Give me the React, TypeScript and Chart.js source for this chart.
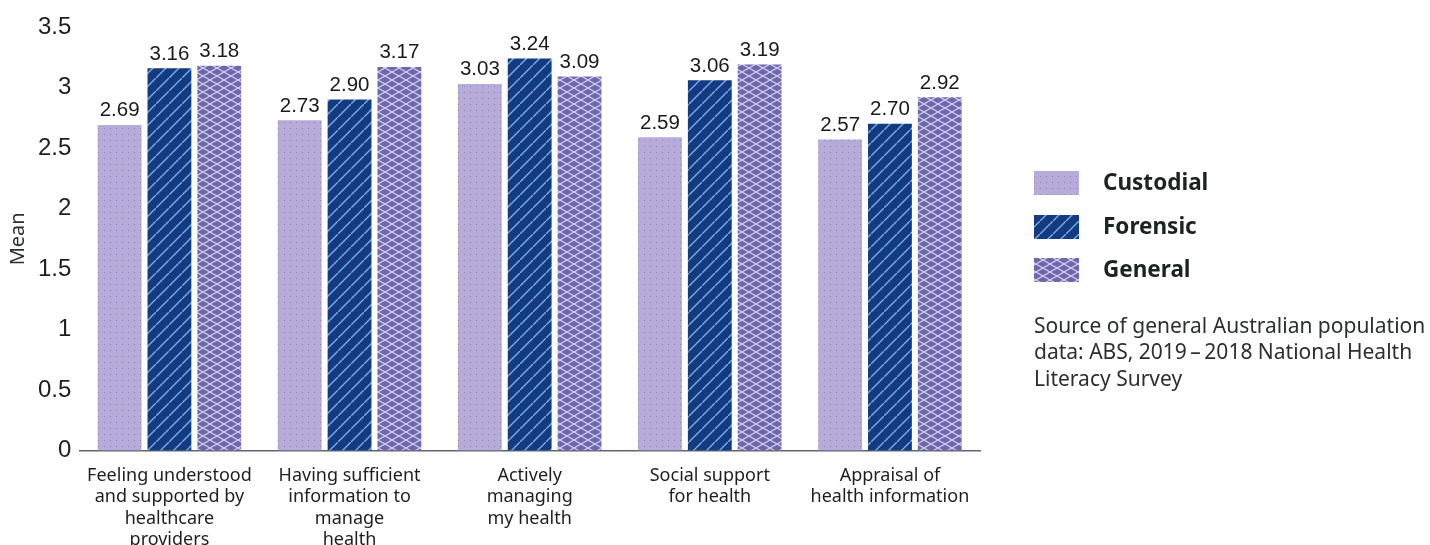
import React, { useEffect, useRef } from "react";
import { Chart, registerables } from "chart.js";

Chart.register(...registerables);

const categories: string[][] = [
  ["Feeling understood", "and supported by", "healthcare", "providers"],
  ["Having sufficient", "information to", "manage", "health"],
  ["Actively", "managing", "my health"],
  ["Social support", "for health"],
  ["Appraisal of", "health information"],
];
const seriesNames = ["Custodial", "Forensic", "General"];
const custodial = [2.69, 2.73, 3.03, 2.59, 2.57];
const forensic = [3.16, 2.9, 3.24, 3.06, 2.7];
const general = [3.18, 3.17, 3.09, 3.19, 2.92];
const yTicks = [0, 0.5, 1, 1.5, 2, 2.5, 3, 3.5];
const sourceLines = [
  "Source of general Australian population",
  "data: ABS, 2019\u2009\u2013\u20092018 National Health",
  "Literacy Survey",
];

function makeTile(w: number, h: number, draw: (c: CanvasRenderingContext2D) => void) {
  const cv = document.createElement("canvas");
  cv.width = w;
  cv.height = h;
  const c = cv.getContext("2d")!;
  draw(c);
  return c.createPattern(cv, "repeat")!;
}

function dotPattern() {
  return makeTile(6, 6, (c) => {
    c.fillStyle = "#b6abd9";
    c.fillRect(0, 0, 6, 6);
    c.fillStyle = "#8a7dbf";
    c.fillRect(2, 2, 1, 1);
  });
}
function diagPattern() {
  return makeTile(13, 13, (c) => {
    c.fillStyle = "#163a80";
    c.fillRect(0, 0, 13, 13);
    c.strokeStyle = "#6cb0ea";
    c.lineWidth = 1.4;
    c.beginPath();
    c.moveTo(-2, 15);
    c.lineTo(15, -2);
    c.stroke();
  });
}
function crossPattern() {
  return makeTile(14, 8, (c) => {
    c.fillStyle = "#6e67af";
    c.fillRect(0, 0, 14, 8);
    c.strokeStyle = "rgba(236,232,248,0.8)";
    c.lineWidth = 1.2;
    c.beginPath();
    c.moveTo(0, 0);
    c.lineTo(14, 8);
    c.moveTo(0, 8);
    c.lineTo(14, 0);
    c.stroke();
  });
}

const valueLabels = {
  id: "valueLabels",
  afterDatasetsDraw(chart: any) {
    const ctx = chart.ctx;
    ctx.save();
    ctx.font = '20.5px "Liberation Sans", Arial, sans-serif';
    ctx.fillStyle = "#1a1a1a";
    ctx.textAlign = "center";
    ctx.textBaseline = "bottom";
    chart.data.datasets.forEach((ds: any, i: number) => {
      const meta = chart.getDatasetMeta(i);
      meta.data.forEach((bar: any, j: number) => {
        ctx.fillText(ds.data[j].toFixed(2), bar.x, bar.y - 4);
      });
    });
    ctx.restore();
  },
};

const sideLegend = {
  id: "sideLegend",
  afterDraw(chart: any) {
    const ctx = chart.ctx;
    ctx.save();
    const x0 = 1034;
    const ys = [183, 227, 270];
    chart.data.datasets.forEach((ds: any, i: number) => {
      ctx.fillStyle = ds.backgroundColor;
      ctx.fillRect(x0, ys[i] - 12, 45, 24);
      ctx.fillStyle = "#1c2422";
      ctx.font = 'bold 22.5px "Noto Sans", "Open Sans", sans-serif';
      ctx.textAlign = "left";
      ctx.textBaseline = "middle";
      ctx.fillText(ds.label, 1103, ys[i] + 1);
    });
    ctx.font = '21px "Noto Sans", "Open Sans", sans-serif';
    ctx.fillStyle = "#2a302e";
    ctx.textBaseline = "middle";
    sourceLines.forEach((l, k) => ctx.fillText(l, x0, 327 + k * 26.5));
    ctx.restore();
  },
};

export default function App() {
  const ref = useRef<HTMLCanvasElement>(null);
  useEffect(() => {
    const fills = [dotPattern(), diagPattern(), crossPattern()];
    const values = [custodial, forensic, general];
    const chart = new Chart(ref.current!, {
      type: "bar",
      data: {
        labels: categories,
        datasets: seriesNames.map((n, i) => ({
          label: n,
          data: values[i],
          backgroundColor: fills[i] as any,
          borderWidth: 0,
          categoryPercentage: 0.83,
          barPercentage: 0.88,
        })),
      },
      options: {
        animation: false,
        responsive: true,
        maintainAspectRatio: false,
        layout: { padding: { top: 27, right: 450, left: 6, bottom: 0 } },
        plugins: { legend: { display: false }, tooltip: { enabled: false } },
        scales: {
          x: {
            grid: { display: false },
            border: { display: true, color: "#5c6670", width: 1.5 },
            ticks: {
              color: "#1e1e1e",
              font: { size: 18, family: '"Noto Sans", "Open Sans", sans-serif', lineHeight: 1.2 },
              padding: 6,
              maxRotation: 0,
              autoSkip: false,
            },
          },
          y: {
            min: 0,
            max: 3.5,
            afterBuildTicks: (s: any) => {
              s.ticks = yTicks.map((v) => ({ value: v }));
            },
            grid: { display: false, drawTicks: false },
            border: { display: false },
            ticks: {
              color: "#1e1e1e",
              font: { size: 24, family: '"Liberation Sans", Arial, sans-serif' },
              padding: 8,
              callback: (v: any) => String(v),
            },
            title: {
              display: true,
              text: "Mean",
              color: "#2a302e",
              font: { size: 20, family: '"Noto Sans", "Open Sans", sans-serif' },
              padding: { top: 0, bottom: 0 },
            },
          },
        },
      },
      plugins: [valueLabels, sideLegend],
    });
    return () => chart.destroy();
  }, []);
  return (
    <div style={{ position: "absolute", left: 0, top: 0, width: 1430, height: 557 }}>
      <canvas ref={ref} />
    </div>
  );
}
